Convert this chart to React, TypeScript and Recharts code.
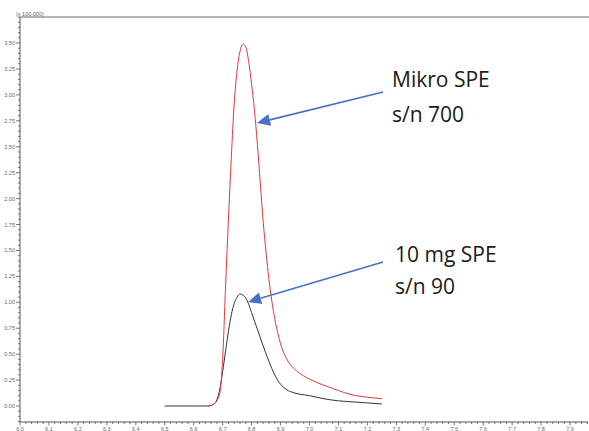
import { Line, LineChart, ReferenceLine, XAxis, YAxis } from "recharts";

// retention time (min) / intensity (x 100,000)
const MIKRO_TIME = [
  6.65, 6.67, 6.68, 6.69, 6.7, 6.71, 6.72, 6.73, 6.74, 6.75, 6.76, 6.77, 6.78,
  6.79, 6.8, 6.81, 6.82, 6.83, 6.84, 6.85, 6.86, 6.87, 6.88, 6.89, 6.9, 6.92,
  6.94, 6.96, 6.98, 7.0, 7.04, 7.08, 7.12, 7.16, 7.2, 7.25,
];
const MIKRO_VALUES = [
  0, 0.02, 0.05, 0.12, 0.45, 1.15, 1.8, 2.4, 2.92, 3.24, 3.42, 3.49, 3.46,
  3.32, 3.1, 2.85, 2.52, 2.15, 1.78, 1.48, 1.22, 1.01, 0.84, 0.71, 0.6, 0.46,
  0.38, 0.33, 0.29, 0.26, 0.21, 0.17, 0.13, 0.1, 0.085, 0.07,
];

const MG10_TIME = [
  6.5, 6.6, 6.65, 6.67, 6.68, 6.69, 6.7, 6.71, 6.72, 6.73, 6.74, 6.75, 6.76,
  6.77, 6.78, 6.79, 6.8, 6.82, 6.84, 6.86, 6.88, 6.9, 6.92, 6.95, 7.0, 7.05,
  7.1, 7.15, 7.2, 7.25,
];
const MG10_VALUES = [
  0, 0, 0, 0.02, 0.06, 0.16, 0.33, 0.53, 0.72, 0.88, 0.99, 1.05, 1.08, 1.07,
  1.04, 0.98, 0.9, 0.74, 0.58, 0.43, 0.3, 0.21, 0.16, 0.125, 0.1, 0.07, 0.05,
  0.04, 0.03, 0.02,
];

const X_DOMAIN = [6.0, 7.962];
const Y_DOMAIN = [-0.154, 3.751];
const X_MINOR = Array.from({ length: 99 }, (_, i) => Math.round((6 + i * 0.02) * 100) / 100);
const Y_MINOR = Array.from({ length: 79 }, (_, i) => Math.round((-0.15 + i * 0.05) * 100) / 100);

const SCALE_NOTE = "(x 100,000)";
const NOTES = [
  { lines: ["Mikro SPE", "s/n 700"], from: { x: 7.254, y: 3.028 }, to: { x: 6.819, y: 2.729 }, dx: 9, dy: [-5, 30] },
  { lines: ["10 mg SPE", "s/n 90"], from: { x: 7.254, y: 1.388 }, to: { x: 6.788, y: 1.003 }, dx: 12, dy: [0, 32] },
];

const mikro = MIKRO_TIME.map((x, i) => ({ x, y: MIKRO_VALUES[i] }));
const mg10 = MG10_TIME.map((x, i) => ({ x, y: MG10_VALUES[i] }));

const TICK_FONT = "'Liberation Sans', Arial, sans-serif";

function XTick(props: any) {
  const { x, y, payload } = props;
  const v = payload.value;
  const major = Math.round(v * 100) % 10 === 0;
  return (
    <g>
      <line x1={x} x2={x} y1={y} y2={y + (major ? 3.5 : 2)} stroke="#555" strokeWidth={0.8} />
      {major && (
        <text x={x} y={y + 9} textAnchor="middle" fontSize={5.5} fill="#666" fontFamily={TICK_FONT}>
          {v.toFixed(1)}
        </text>
      )}
    </g>
  );
}

function YTick(props: any) {
  const { x, y, payload } = props;
  const v = payload.value;
  const major = Math.round(v * 100) % 25 === 0 && v >= 0 && v <= 3.5;
  return (
    <g>
      <line x1={x} x2={x - (major ? 4 : 2)} y1={y} y2={y} stroke="#555" strokeWidth={0.8} />
      {major && (
        <text x={x - 5} y={y + 2} textAnchor="end" fontSize={5.5} fill="#666" fontFamily={TICK_FONT}>
          {v.toFixed(2)}
        </text>
      )}
    </g>
  );
}

function TopBorder(props: any) {
  const { x1, y1, x2, y2 } = props;
  return (
    <g>
      <line x1={x1} x2={x2 + 1} y1={y1} y2={y2} stroke="#b3b3b3" strokeWidth={2} />
      <text x={x1 - 4} y={y1 - 1.5} fontSize={5.5} fill="#666" fontFamily={TICK_FONT}>
        {SCALE_NOTE}
      </text>
    </g>
  );
}

function makeArrow(note: (typeof NOTES)[number]) {
  return function Arrow(props: any) {
    const { x1, y1, x2, y2 } = props;
    const ang = Math.atan2(y2 - y1, x2 - x1);
    const len = 13;
    const half = 6;
    const bx = x2 - len * Math.cos(ang);
    const by = y2 - len * Math.sin(ang);
    const px = -Math.sin(ang) * half;
    const py = Math.cos(ang) * half;
    return (
      <g>
        <line x1={x1} y1={y1} x2={bx} y2={by} stroke="#4472c4" strokeWidth={1.6} />
        <polygon
          points={`${x2},${y2} ${bx + px},${by + py} ${bx - px},${by - py}`}
          fill="#4472c4"
        />
        {note.lines.map((t, i) => (
          <text
            key={t}
            x={x1 + note.dx}
            y={y1 + note.dy[i]}
            fontSize={21}
            fill="#1a1a1a"
            fontFamily="'Open Sans', sans-serif"
          >
            {t}
          </text>
        ))}
      </g>
    );
  };
}

export default function App() {
  return (
    <div style={{ position: "absolute", left: 0, top: 0, width: 589, height: 431, background: "#fff" }}>
      <LineChart width={589} height={431} margin={{ top: 17, right: 1, bottom: 0, left: 0 }}>
        <XAxis
          type="number"
          dataKey="x"
          domain={X_DOMAIN}
          ticks={X_MINOR}
          interval={0}
          allowDataOverflow
          height={9}
          tickSize={0}
          tickMargin={0}
          tickLine={false}
          tick={<XTick />}
          stroke="#555"
        />
        <YAxis
          type="number"
          domain={Y_DOMAIN}
          ticks={Y_MINOR}
          interval={0}
          allowDataOverflow
          width={20}
          tickSize={0}
          tickMargin={0}
          tickLine={false}
          tick={<YTick />}
          stroke="#555"
        />
        <ReferenceLine y={Y_DOMAIN[1]} shape={<TopBorder />} ifOverflow="visible" />
        <Line
          data={mg10}
          dataKey="y"
          type="monotone"
          stroke="#333"
          strokeWidth={1}
          dot={false}
          isAnimationActive={false}
        />
        <Line
          data={mikro}
          dataKey="y"
          type="monotone"
          stroke="#e0393e"
          strokeWidth={1}
          dot={false}
          isAnimationActive={false}
        />
        {NOTES.map((n) => (
          <ReferenceLine
            key={n.lines[0]}
            segment={[n.from, n.to]}
            shape={makeArrow(n)}
            ifOverflow="visible"
          />
        ))}
      </LineChart>
    </div>
  );
}
